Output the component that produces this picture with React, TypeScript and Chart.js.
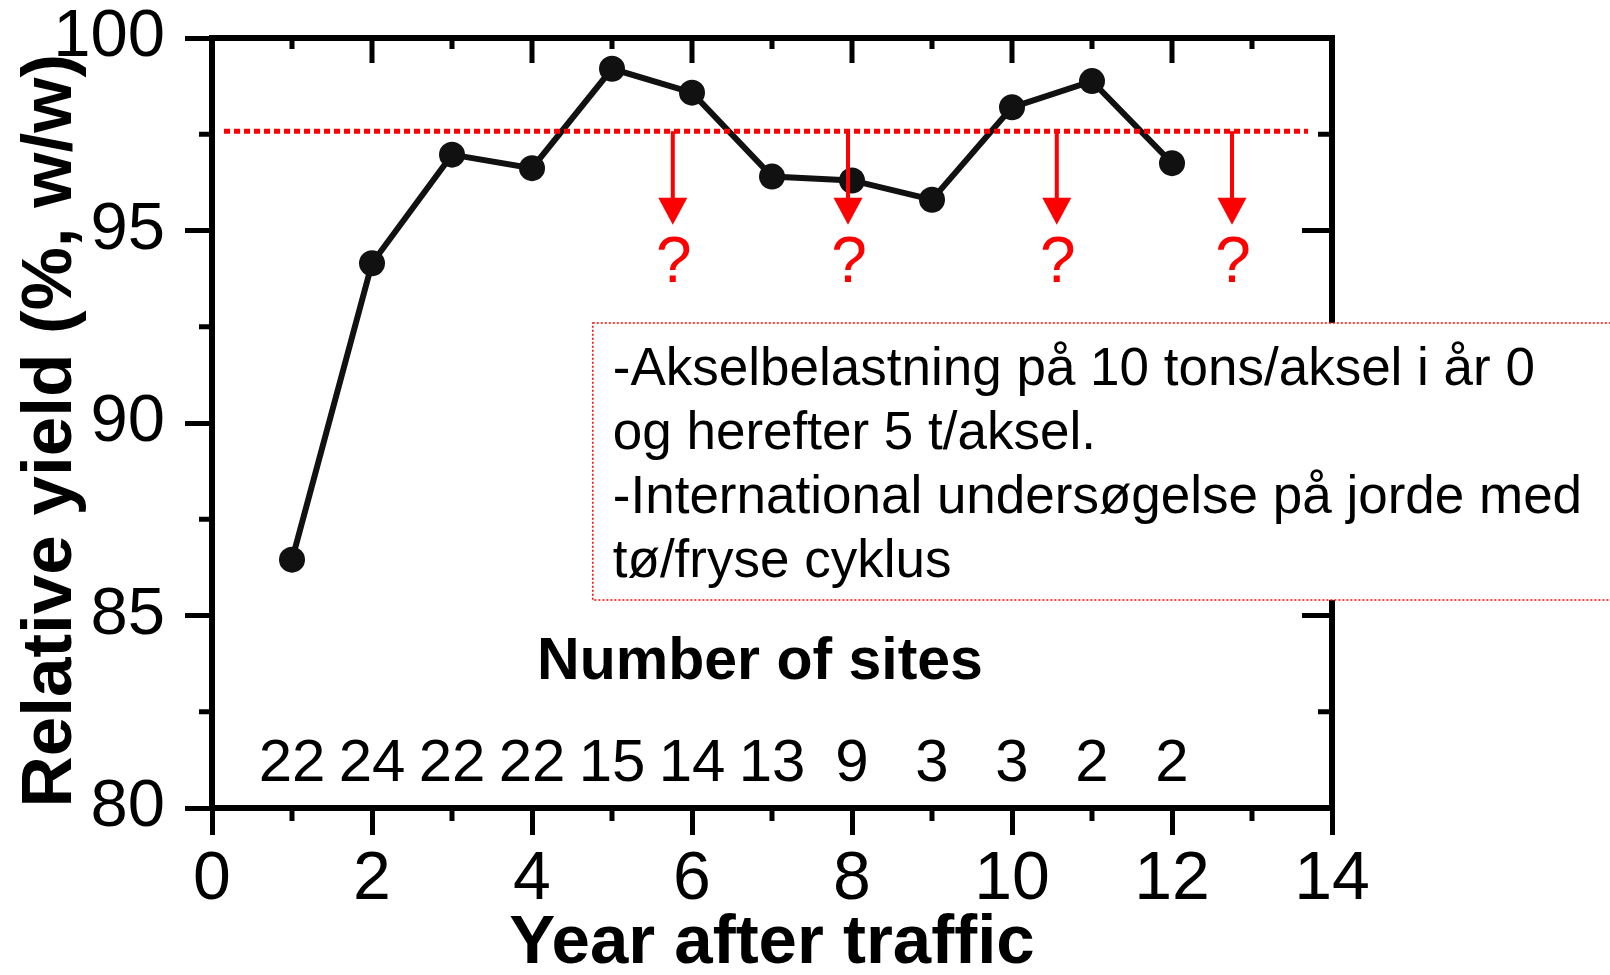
import React, { useEffect, useRef } from "react";
import { Chart, registerables } from "chart.js";

Chart.register(...registerables);

// ---- data ----
const years = [1, 2, 3, 4, 5, 6, 7, 8, 9, 10, 11, 12];
const relativeYield = [86.45, 94.15, 96.97, 96.62, 99.2, 98.58, 96.4, 96.3, 95.8, 98.2, 98.88, 96.75];
const siteCounts = [22, 24, 22, 22, 15, 14, 13, 9, 3, 3, 2, 2];
const thresholdYield = 97.58;
const thresholdSpan = [0.15, 13.7];
const arrowYears = [5.76, 7.95, 10.56, 12.75];
const arrowTipYield = 95.15;
const questionYield = 93.65;
const sitesTitle = "Number of sites";
const sitesTitleX = 6.85;
const sitesTitleY = 83.35;
const sitesBaselineY = 80.7;
const noteLines = [
  "-Akselbelastning på 10 tons/aksel i år 0",
  "og herefter 5 t/aksel.",
  "-International undersøgelse på jorde med",
  "tø/fryse cyklus",
];
const noteBox = { x0: 4.76, yTop: 92.6, yBottom: 85.4 };
const xTitle = "Year after traffic";
const yTitle = "Relative yield (%, w/w)";
const yTitleCenter = 89.8;
const xRange = [0, 14];
const yRange = [80, 100];

const FONT = "'Liberation Sans', Arial, Helvetica, sans-serif";

const decorPlugin = {
  id: "decor",
  afterDraw(chart: any) {
    const { ctx, chartArea: ca } = chart;
    const x = chart.scales.x;
    const y = chart.scales.y;
    ctx.save();

    // top and right frame
    ctx.strokeStyle = "#000";
    ctx.lineWidth = 6;
    ctx.lineCap = "square";
    ctx.beginPath();
    ctx.moveTo(ca.left, ca.top);
    ctx.lineTo(ca.right, ca.top);
    ctx.lineTo(ca.right, ca.bottom);
    ctx.stroke();
    ctx.lineCap = "butt";

    // top ticks (inward) and bottom minor ticks
    ctx.lineWidth = 5;
    for (let v = xRange[0] + 1; v < xRange[1]; v++) {
      const px = x.getPixelForValue(v);
      const major = v % 2 === 0;
      ctx.beginPath();
      ctx.moveTo(px, ca.top);
      ctx.lineTo(px, ca.top + (major ? 25 : 11));
      ctx.stroke();
      if (!major) {
        ctx.beginPath();
        ctx.moveTo(px, ca.bottom);
        ctx.lineTo(px, ca.bottom + 13);
        ctx.stroke();
      }
    }
    // right ticks (inward) and left minor ticks
    for (let v = yRange[0] + 2.5; v < yRange[1]; v += 2.5) {
      const py = y.getPixelForValue(v);
      const major = v % 5 === 0;
      ctx.beginPath();
      ctx.moveTo(ca.right, py);
      ctx.lineTo(ca.right - (major ? 30 : 14), py);
      ctx.stroke();
      if (!major) {
        ctx.beginPath();
        ctx.moveTo(ca.left, py);
        ctx.lineTo(ca.left - 13, py);
        ctx.stroke();
      }
    }

    // y axis title (rotated)
    ctx.fillStyle = "#000";
    ctx.save();
    ctx.translate(51, y.getPixelForValue(yTitleCenter));
    ctx.rotate(-Math.PI / 2);
    ctx.font = `bold 71px ${FONT}`;
    ctx.textAlign = "center";
    ctx.textBaseline = "middle";
    ctx.fillText(yTitle, 0, 0);
    ctx.restore();

    // site counts
    ctx.font = `60px ${FONT}`;
    ctx.textAlign = "center";
    ctx.textBaseline = "alphabetic";
    const by = y.getPixelForValue(sitesBaselineY);
    years.forEach((yr, i) => {
      ctx.fillText(String(siteCounts[i]), x.getPixelForValue(yr), by);
    });
    ctx.font = `bold 59px ${FONT}`;
    ctx.fillText(sitesTitle, x.getPixelForValue(sitesTitleX), y.getPixelForValue(sitesTitleY));

    // red arrows with question marks
    ctx.fillStyle = "#ff0000";
    ctx.strokeStyle = "#ff0000";
    const y0 = y.getPixelForValue(thresholdYield);
    const tip = y.getPixelForValue(arrowTipYield);
    const qy = y.getPixelForValue(questionYield);
    arrowYears.forEach((ay) => {
      const px = x.getPixelForValue(ay);
      ctx.lineWidth = 4;
      ctx.beginPath();
      ctx.moveTo(px, y0);
      ctx.lineTo(px, tip - 25);
      ctx.stroke();
      ctx.beginPath();
      ctx.moveTo(px - 14.5, tip - 27);
      ctx.lineTo(px + 14.5, tip - 27);
      ctx.lineTo(px, tip);
      ctx.closePath();
      ctx.fill();
      ctx.font = `64px ${FONT}`;
      ctx.textAlign = "center";
      ctx.fillText("?", px + 1, qy);
    });

    // note box
    const bx = x.getPixelForValue(noteBox.x0);
    const bt = y.getPixelForValue(noteBox.yTop);
    const bb = y.getPixelForValue(noteBox.yBottom);
    const bw = chart.width - bx + 10;
    ctx.fillStyle = "#fff";
    ctx.fillRect(bx, bt, bw, bb - bt);
    ctx.strokeStyle = "#ff0000";
    ctx.lineWidth = 1.5;
    ctx.setLineDash([2, 2]);
    ctx.strokeRect(bx, bt, bw, bb - bt);
    ctx.setLineDash([]);
    ctx.fillStyle = "#000";
    ctx.font = `53px ${FONT}`;
    ctx.textAlign = "left";
    noteLines.forEach((line, i) => {
      ctx.fillText(line, bx + 20, bt + 62 + i * 64);
    });

    ctx.restore();
  },
};

export default function App() {
  const ref = useRef<HTMLCanvasElement | null>(null);
  useEffect(() => {
    if (!ref.current) return;
    const chart = new Chart(ref.current, {
      type: "line",
      data: {
        datasets: [
          {
            label: "Relative yield",
            data: years.map((yr, i) => ({ x: yr, y: relativeYield[i] })),
            borderColor: "#111",
            backgroundColor: "#111",
            borderWidth: 6,
            pointRadius: 13,
            pointBorderWidth: 0,
            pointBackgroundColor: "#111",
            tension: 0,
            order: 2,
          },
          {
            label: "Threshold",
            data: thresholdSpan.map((v) => ({ x: v, y: thresholdYield })),
            borderColor: "#ff0000",
            borderWidth: 5,
            borderDash: [6, 4],
            pointRadius: 0,
            order: 1,
          },
        ],
      },
      options: {
        responsive: false,
        animation: false,
        layout: { padding: { top: 38, right: 278, left: 0, bottom: 0 } },
        plugins: { legend: { display: false }, tooltip: { enabled: false } },
        scales: {
          x: {
            type: "linear",
            min: xRange[0],
            max: xRange[1],
            ticks: {
              stepSize: 2,
              color: "#000",
              font: { family: FONT, size: 68, lineHeight: 1 },
              padding: 11,
              maxRotation: 0,
            },
            grid: { drawOnChartArea: false, drawTicks: true, tickLength: 27, tickWidth: 5, tickColor: "#000" },
            border: { display: true, width: 6, color: "#000" },
            title: {
              display: true,
              text: xTitle,
              color: "#000",
              font: { family: FONT, size: 69, weight: "bold", lineHeight: 1 },
              padding: { top: 0, bottom: -3 },
            },
            afterFit(scale: any) {
              scale.height = 167;
              scale.paddingLeft = 0;
              scale.paddingRight = 0;
            },
          },
          y: {
            type: "linear",
            min: yRange[0],
            max: yRange[1],
            ticks: {
              stepSize: 5,
              color: "#000",
              font: { family: FONT, size: 67, lineHeight: 1 },
              padding: 20,
            },
            grid: { drawOnChartArea: false, drawTicks: true, tickLength: 27, tickWidth: 5, tickColor: "#000" },
            border: { display: true, width: 6, color: "#000" },
            title: { display: false, text: yTitle },
            afterFit(scale: any) {
              scale.width = 212;
              scale.paddingTop = 0;
              scale.paddingBottom = 0;
            },
          },
        },
      },
      plugins: [decorPlugin],
    });
    return () => chart.destroy();
  }, []);

  return (
    <div style={{ position: "absolute", left: 0, top: 0, width: 1610, height: 975, background: "#fff" }}>
      <canvas ref={ref} width={1610} height={975} style={{ display: "block" }} />
    </div>
  );
}
